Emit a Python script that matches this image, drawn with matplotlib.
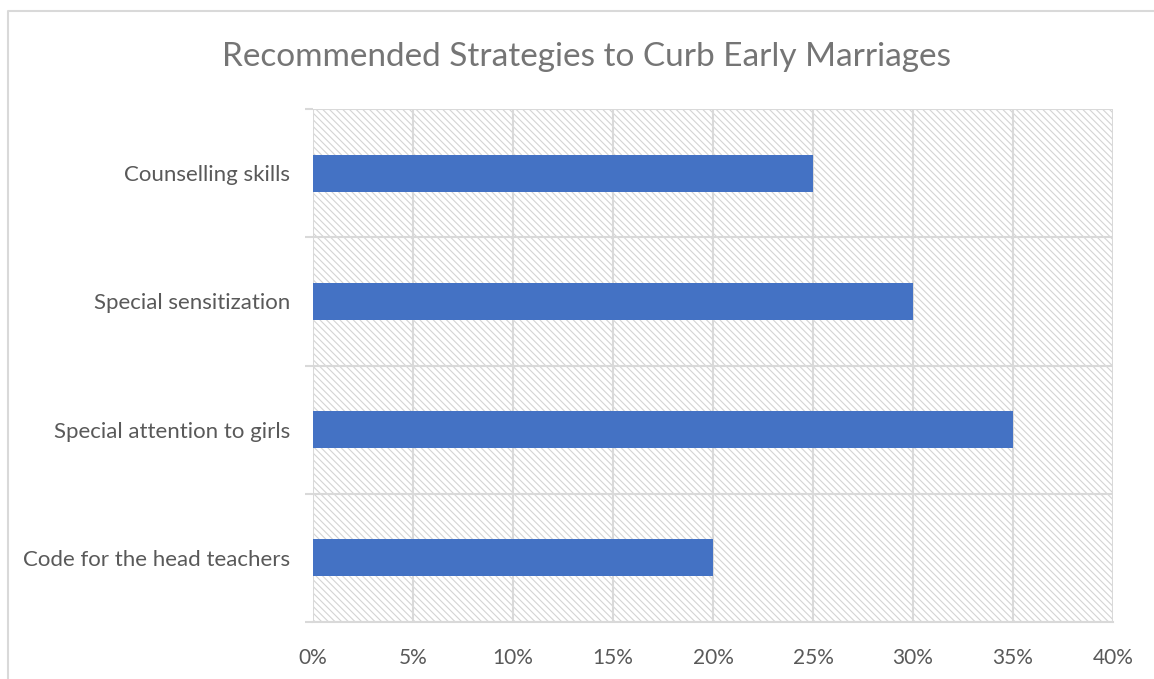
import matplotlib
matplotlib.use("Agg")
import matplotlib.pyplot as plt
from matplotlib.lines import Line2D
from matplotlib.patches import Rectangle
from matplotlib.ticker import FuncFormatter, MultipleLocator

# data
strategies = [
    "Counselling skills",
    "Special sensitization",
    "Special attention to girls",
    "Code for the head teachers",
]
shares = [0.25, 0.30, 0.35, 0.20]

W, H = 1154, 679
plt.rcParams["font.family"] = ["Lato", "DejaVu Sans"]
plt.rcParams["hatch.linewidth"] = 0.8

fig = plt.figure(figsize=(W / 100, H / 100), dpi=100)
ax = fig.add_axes([313 / W, 1 - 622 / H, 800 / W, 513 / H])

grid_col = "#d9d9d9"
text_col = "#595959"

# hatched plot area
bg = Rectangle((0, 0), 1, 1, transform=ax.transAxes, facecolor="white",
               edgecolor="#d4d4d4", hatch="\\\\\\\\\\", linewidth=0, zorder=0)
ax.add_patch(bg)

pos = list(range(len(strategies)))
ax.barh(pos, shares, height=0.29, color="#4472c4", zorder=3)

ax.set_xlim(0, 0.40)
ax.set_ylim(len(strategies) - 0.5, -0.5)
ax.xaxis.set_major_locator(MultipleLocator(0.05))
ax.xaxis.set_major_formatter(FuncFormatter(lambda v, _: f"{v * 100:.0f}%"))
ax.set_yticks(pos)
ax.set_yticklabels(strategies)
ax.set_yticks([p - 0.5 for p in pos] + [len(pos) - 0.5], minor=True)

ax.grid(axis="x", color=grid_col, linewidth=1.5, zorder=1)
ax.grid(axis="y", which="minor", color=grid_col, linewidth=1.5, zorder=1)
ax.tick_params(axis="y", which="major", length=0, pad=16.5, labelsize=16,
               labelcolor=text_col)
ax.tick_params(axis="y", which="minor", length=6, width=1.5, color=grid_col)
ax.tick_params(axis="x", length=0, pad=19, labelsize=15, labelcolor=text_col)
for side in ["top", "left", "right"]:
    ax.spines[side].set_visible(False)
ax.spines["bottom"].set_color(grid_col)
ax.spines["bottom"].set_linewidth(1.5)
ax.set_axisbelow(True)

fig.text(586 / W, 1 - 57 / H, "Recommended Strategies to Curb Early Marriages",
         ha="center", va="center", fontsize=24, color="#757575")

# outer chart border (left and top only are visible)
fig.add_artist(Line2D([8 / W, 8 / W, 1], [0, 1 - 11 / H, 1 - 11 / H],
                      transform=fig.transFigure, color=grid_col, linewidth=1.5))

fig.savefig("out.png", dpi=100)
